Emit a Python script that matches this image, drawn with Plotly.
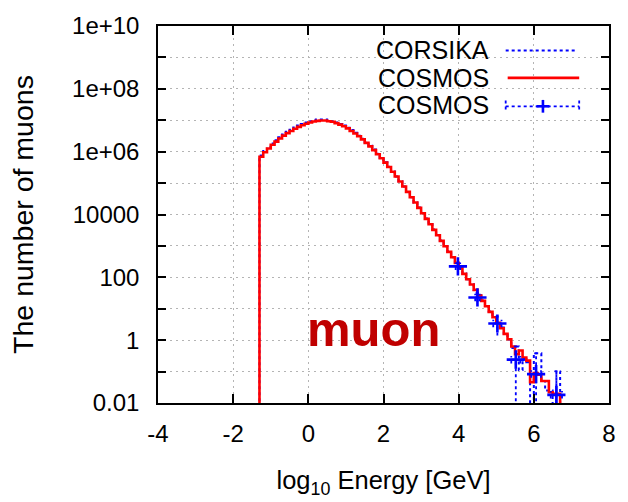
import plotly.graph_objects as go

# ---------------- data (log10 of the number of muons per 0.1 bin) ----------------
bin_start = -1.3
bin_width = 0.1

cosmos_log10 = [
    5.84, 5.98, 6.10, 6.22, 6.32, 6.42, 6.51, 6.59, 6.66, 6.73,   # -1.3 .. -0.4
    6.79, 6.84, 6.89, 6.93, 6.96, 6.98, 6.99, 6.99, 6.97, 6.95,   # -0.3 .. 0.6
    6.91, 6.86, 6.81, 6.74, 6.66, 6.58, 6.49, 6.39, 6.28, 6.17,   # 0.7 .. 1.6
    6.05, 5.92, 5.79, 5.65, 5.51, 5.36, 5.21, 5.05, 4.89, 4.72,   # 1.7 .. 2.6
    4.55, 4.38, 4.21, 4.04, 3.86, 3.69, 3.51, 3.34, 3.16, 2.99,   # 2.7 .. 3.6
    2.81, 2.64, 2.46, 2.29, 2.11, 1.94, 1.77, 1.60, 1.42, 1.25,   # 3.7 .. 4.6
    1.08, 0.90, 0.73, 0.55, 0.38, 0.20, 0.03, -0.20, -0.45, -0.33,  # 4.7 .. 5.6
    -0.55, -0.65, -1.34, -1.05, -1.10, -1.30, -1.30, -1.66, -1.71, -1.71,  # 5.7 .. 6.6
]

# None = empty bin (zero muons)
corsika_log10 = [
    5.88, 6.02, 6.14, 6.26, 6.36, 6.46, 6.55, 6.63, 6.70, 6.77,
    6.83, 6.88, 6.93, 6.97, 7.00, 7.02, 7.02, 7.02, 7.00, 6.97,
    6.93, 6.88, 6.83, 6.76, 6.69, 6.60, 6.51, 6.41, 6.30, 6.19,
    6.07, 5.93, 5.80, 5.66, 5.52, 5.37, 5.21, 5.06, 4.89, 4.73,
    4.55, 4.38, 4.22, 4.04, 3.87, 3.69, 3.52, 3.34, 3.17, 2.99,
    2.82, 2.64, 2.47, 2.29, 2.12, 1.94, 1.78, 1.60, 1.43, 1.26,
    1.08, 0.91, 0.74, 0.56, 0.40, 0.21, 0.02, -0.25, -0.20, -0.95,
    -0.60, -0.70, None, -0.42, -0.42, -1.30, -1.60, -1.60, None, -1.00,
]

# COSMOS with error bars (log10 E, log10 N, upper, lower; None lower = down to zero)
pts_x = [3.98, 4.50, 5.03, 5.52, 6.06, 6.60]
pts_log10 = [2.35, 1.36, 0.53, -0.62, -1.08, -1.74]
pts_hi_log10 = [2.45, 1.50, 0.75, -0.20, -0.42, -0.99]
pts_lo_log10 = [2.25, 1.22, 0.15, None, None, None]
pts_xerr = [0.06, 0.06, 0.11, 0.12, 0.13, 0.15]

x_ticks = [-4, -2, 0, 2, 4, 6, 8]
y_tick_exp = [-2, 0, 2, 4, 6, 8, 10]
y_tick_text = ["0.01", "1", "100", "10000", "1e+06", "1e+08", "1e+10"]
y_minor_exp = [-1, 1, 3, 5, 7, 9]

FLOOR = 1e-5  # value used to draw empty bins below the visible range
BLUE = "#0000ff"
RED = "#ff0000"
GRID = "#b4b4b4"
FONT = "Liberation Sans, Arial, sans-serif"


def step_xy(vals):
    n = len(vals)
    edges = [round(bin_start + i * bin_width, 3) for i in range(n + 1)]
    ys = [FLOOR if v is None else 10 ** v for v in vals]
    xs = [edges[0]] + edges[:n] + [edges[n], edges[n]]
    yy = [FLOOR] + ys + [ys[-1], FLOOR]
    return xs, yy


fig = go.Figure()

cx, cy = step_xy(corsika_log10)
fig.add_trace(go.Scatter(x=cx, y=cy, mode="lines", line=dict(color=BLUE, width=2, dash="dot", shape="hv"),
                         showlegend=False, hoverinfo="skip"))

rx, ry = step_xy(cosmos_log10)
fig.add_trace(go.Scatter(x=rx, y=ry, mode="lines", line=dict(color=RED, width=2.6, shape="hv"),
                         showlegend=False, hoverinfo="skip"))

# error bars drawn as dotted segments
ex, ey = [], []
for x, v, hi, lo, dx in zip(pts_x, pts_log10, pts_hi_log10, pts_lo_log10, pts_xerr):
    ylo = FLOOR if lo is None else 10 ** lo
    yhi = 10 ** hi
    ex += [x, x, None]
    ey += [ylo, yhi, None]
    ex += [x - dx, x + dx, None]
    ey += [10 ** v, 10 ** v, None]
    for xe in (x - dx, x + dx):
        ex += [xe, xe, None]
        ey += [10 ** (v - 0.12), 10 ** (v + 0.12), None]
    ex += [x - 0.05, x + 0.05, None]
    ey += [yhi, yhi, None]
fig.add_trace(go.Scatter(x=ex, y=ey, mode="lines", line=dict(color=BLUE, width=1.8, dash="dot"),
                         showlegend=False, hoverinfo="skip"))
fig.add_trace(go.Scatter(x=pts_x, y=[10 ** v for v in pts_log10], mode="markers",
                         marker=dict(symbol="cross-thin", size=13, line=dict(color=BLUE, width=2.6)),
                         showlegend=False, hoverinfo="skip"))

# ---------------- manual gnuplot-style key ----------------
L, R, T, B = 158, 612, 20, 405
W, H = R - L, B - T


def px(x):
    return (x - L) / W


def py(y):
    return (B - y) / H


key_labels = ["CORSIKA", "COSMOS", "COSMOS"]
key_y = [45, 73, 101]
for lab, yk in zip(key_labels, key_y):
    fig.add_annotation(x=px(493), y=py(yk), xref="paper", yref="paper", text=lab, showarrow=False,
                       xanchor="right", yanchor="middle", font=dict(family=FONT, size=25, color="black"))

shapes = []
shapes.append(dict(type="line", xref="paper", yref="paper", x0=px(508), x1=px(578), y0=py(45), y1=py(45),
                   line=dict(color=BLUE, width=2, dash="dot")))
shapes.append(dict(type="line", xref="paper", yref="paper", x0=px(510), x1=px(582), y0=py(73), y1=py(73),
                   line=dict(color=RED, width=2.6)))
shapes.append(dict(type="line", xref="paper", yref="paper", x0=px(508), x1=px(582), y0=py(102), y1=py(102),
                   line=dict(color=BLUE, width=1.8, dash="dot")))
for xe in (508, 582):
    shapes.append(dict(type="line", xref="paper", yref="paper", x0=px(xe), x1=px(xe), y0=py(96), y1=py(108),
                       line=dict(color=BLUE, width=1.8, dash="dot")))
shapes.append(dict(type="line", xref="paper", yref="paper", x0=px(539), x1=px(552), y0=py(102), y1=py(102),
                   line=dict(color=BLUE, width=2.6)))
shapes.append(dict(type="line", xref="paper", yref="paper", x0=px(545.5), x1=px(545.5), y0=py(95.5), y1=py(108.5),
                   line=dict(color=BLUE, width=2.6)))

fig.add_annotation(x=px(375), y=py(329), xref="paper", yref="paper", text="<b>muon</b>", showarrow=False,
                   xanchor="center", yanchor="middle", font=dict(family=FONT, size=49, color="#c00000"))

fig.update_layout(
    width=628, height=502,
    margin=dict(l=L, r=628 - R, t=T, b=502 - B),
    paper_bgcolor="white", plot_bgcolor="white",
    shapes=shapes,
    font=dict(family=FONT, size=24, color="black"),
    xaxis=dict(range=[-4, 8], tickvals=x_ticks, ticktext=[str(v) for v in x_ticks],
               showgrid=True, gridcolor=GRID, griddash="2px,4px", gridwidth=1.2,
               ticks="inside", ticklen=9, tickwidth=1.5, tickcolor="black",
               showline=True, linecolor="black", linewidth=1.5, mirror="ticks",
               zeroline=False, tickfont=dict(size=24), ticklabelstandoff=8,
               title=dict(text="log<sub>10</sub> Energy [GeV]", font=dict(size=25.5), standoff=26)),
    yaxis=dict(type="log", range=[-2, 10],
               tickvals=[10 ** e for e in y_tick_exp], ticktext=y_tick_text,
               minor=dict(tickvals=[10 ** e for e in y_minor_exp], ticks="inside", ticklen=8,
                          tickwidth=1.5, tickcolor="black", showgrid=True, gridcolor=GRID,
                          griddash="2px,4px", gridwidth=1.2),
               showgrid=True, gridcolor=GRID, griddash="2px,4px", gridwidth=1.2,
               ticks="inside", ticklen=8, tickwidth=1.5, tickcolor="black",
               showline=True, linecolor="black", linewidth=1.5, mirror="ticks",
               zeroline=False, tickfont=dict(size=24), ticklabelstandoff=12,
               title=dict(text="The number of muons", font=dict(size=28.5), standoff=30)),
)

fig.write_html("out.html")
